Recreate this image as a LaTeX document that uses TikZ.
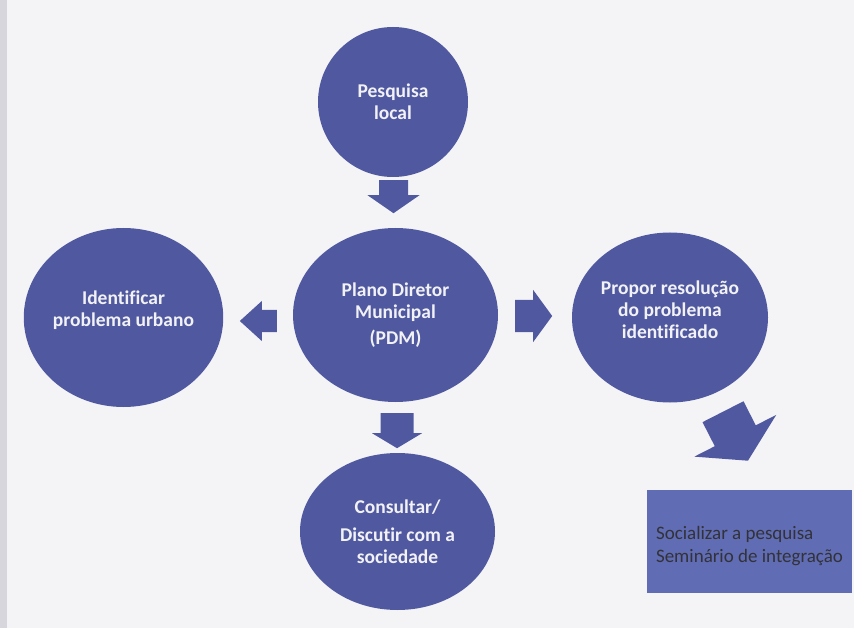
\documentclass[tikz,border=0pt]{standalone}
\usepackage{fontspec}
\setmainfont{Carlito}[Ligatures=NoCommon]
\usetikzlibrary{shapes.geometric,calc}
\definecolor{bubble}{RGB}{80,89,160}
\definecolor{boxblue}{RGB}{96,109,180}
\definecolor{pagebg}{RGB}{244,244,246}
\definecolor{edgegrey}{RGB}{214,214,220}
\definecolor{softwhite}{RGB}{242,242,246}
\definecolor{darktext}{RGB}{50,50,56}
\tikzset{
  bubblenode/.style={ellipse, fill=bubble, inner sep=0pt, align=center,
    text=softwhite, font=\fontsize{19.5}{22}\selectfont\bfseries},
  boxnode/.style={rectangle, fill=boxblue, inner sep=0pt, align=left,
    text=darktext, font=\fontsize{19}{23}\selectfont},
  arrowfill/.style={fill=bubble}
}
% #1 tail point, #2 angle, #3 length, #4 head length, #5 shaft half width, #6 head half width
\newcommand\blockarrow[6]{%
  \fill[arrowfill, shift={#1}, rotate=#2]
    (0,-#5) -- ({#3-#4},-#5) -- ({#3-#4},-#6) -- (#3,0) -- ({#3-#4},#6)
    -- ({#3-#4},#5) -- (0,#5) -- cycle;}
\begin{document}
\begin{tikzpicture}[x=1pt,y=-1pt]
  \fill[pagebg] (0,0) rectangle (854,628);
  \fill[edgegrey] (0,0) rectangle (7,628);
  \useasboundingbox (0,0) rectangle (854,628);

  \node[bubblenode, minimum width=150pt, minimum height=150pt] (top) at (393,102) {Pesquisa\\local};
  \node[bubblenode, minimum width=205pt, minimum height=174pt] (pdm) at (395.5,315) {Plano Diretor\\Municipal\\[4pt](PDM)};
  \node[bubblenode, minimum width=197pt, minimum height=179pt] (ident) at (123.5,317.5) {Identificar\\problema urbano\\[-4pt]};
  \node[bubblenode, minimum width=196pt, minimum height=170pt] (prop) at (670,317.5) {Propor resolução\\do problema\\identificado\\[-6pt]};
  \node[bubblenode, minimum width=195pt, minimum height=157pt] (cons) at (397.5,531.5) {Consultar/\\[6pt]Discutir com a\\sociedade};
  \node[boxnode, minimum width=205pt, minimum height=103pt] (soc) at (749.5,541.5) {\rule{0pt}{22pt}Socializar a pesquisa\\Seminário de integração};

  \blockarrow{($(top.south)+(0.5,3)$)}{-90}{33}{18}{14.5}{26}
  \blockarrow{($(pdm.west)+(-16,6)$)}{180}{37}{22}{11}{20}
  \blockarrow{($(pdm.east)+(17,1)$)}{0}{37}{19}{16}{26}
  \blockarrow{($(pdm.south)+(1.5,11)$)}{-90}{35}{15}{16.5}{25}
  \blockarrow{($(prop.south)+(53,9)$)}{-63}{55}{28}{23}{46}
\end{tikzpicture}
\end{document}
